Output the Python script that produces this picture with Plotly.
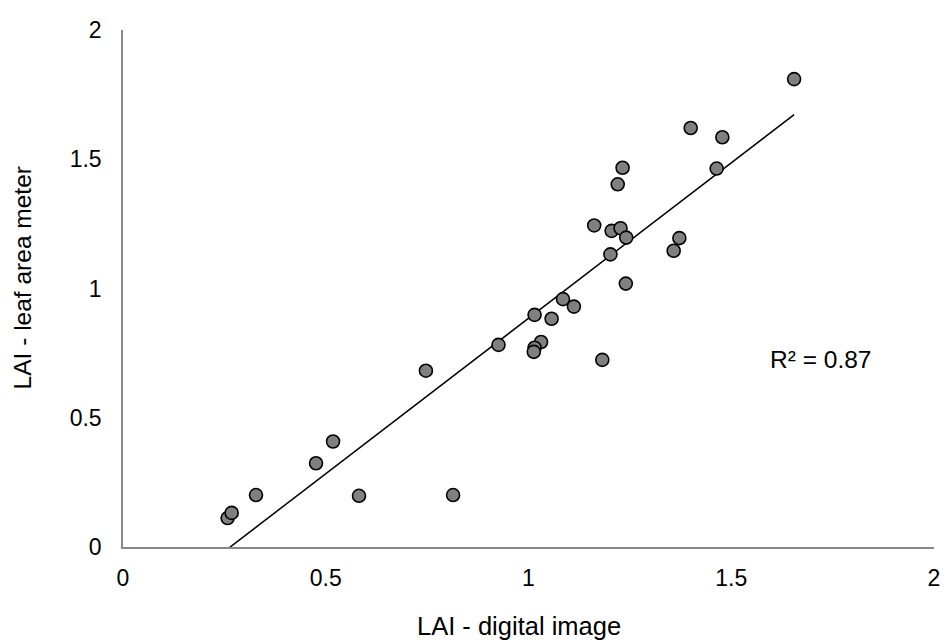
import numpy as np
import plotly.graph_objects as go

# LAI - digital image (x) vs LAI - leaf area meter (y)
lai_digital = [1.655, 1.400, 1.478, 1.464, 1.232, 1.220, 1.162, 1.205, 1.227, 1.241,
               1.372, 1.358, 1.202, 1.240, 1.085, 1.112, 1.015, 1.057, 0.926, 1.031,
               1.015, 1.013, 1.182, 0.258, 0.268, 0.328, 0.582, 0.476, 0.518, 0.747,
               0.814]
lai_meter = [1.810, 1.621, 1.585, 1.464, 1.467, 1.403, 1.244, 1.223, 1.233, 1.197,
             1.195, 1.146, 1.132, 1.019, 0.959, 0.930, 0.898, 0.883, 0.782, 0.793,
             0.771, 0.755, 0.724, 0.112, 0.132, 0.201, 0.198, 0.324, 0.408, 0.682,
             0.201]
r2_label = "R² = 0.87"
tick_vals = [0, 0.5, 1, 1.5, 2]
tick_text = ["0", "0.5", "1", "1.5", "2"]

x = np.array(lai_digital)
y = np.array(lai_meter)
slope, intercept = np.polyfit(x, y, 1)
xt = np.array([x.min(), x.max()])
yt = slope * xt + intercept

FONT = "Liberation Sans, Arial, sans-serif"

# page body has an 8px margin, so the figure is sized to fit inside the window
W, H = 941, 635
L, R, T, B = 115, 9, 15, 96
pw, ph = W - L - R, H - T - B

fig = go.Figure()
fig.add_trace(go.Scatter(x=xt, y=yt, mode="lines",
                         line=dict(color="black", width=1.5),
                         hoverinfo="skip", showlegend=False))
fig.add_trace(go.Scatter(x=lai_digital, y=lai_meter, mode="markers",
                         marker=dict(size=13, color="#808080",
                                     line=dict(color="black", width=1.6)),
                         showlegend=False))

axis_common = dict(range=[0, 2], tickvals=tick_vals, ticktext=tick_text,
                   showgrid=False, zeroline=False, showline=True,
                   linecolor="#888888", linewidth=1.5, ticks="",
                   tickfont=dict(family=FONT, size=23, color="black"),
                   fixedrange=True)
fig.update_xaxes(**axis_common, ticklabelstandoff=10)
fig.update_yaxes(**axis_common, ticklabelstandoff=15)

# title positions in figure pixels -> paper fractions
xt_cx, xt_cy = 514, 619      # x-axis title centre
yt_cx, yt_cy = 14, 266       # y-axis title centre

fig.update_layout(
    width=W, height=H,
    margin=dict(l=L, r=R, t=T, b=B),
    plot_bgcolor="white", paper_bgcolor="white",
    font=dict(family=FONT, color="black"),
    annotations=[
        dict(text="LAI - digital image", xref="paper", yref="paper",
             x=(xt_cx - L) / pw, y=(H - B - xt_cy) / ph,
             xanchor="center", yanchor="middle",
             showarrow=False, font=dict(size=25.5, family=FONT)),
        dict(text="LAI - leaf area meter", xref="paper", yref="paper",
             x=(yt_cx - L) / pw, y=(H - B - yt_cy) / ph,
             xanchor="center", yanchor="middle",
             textangle=-90, showarrow=False, font=dict(size=24.5, family=FONT)),
        dict(text=r2_label, x=1.719, y=0.725, xref="x", yref="y",
             xanchor="center", yanchor="middle", showarrow=False,
             font=dict(size=24.5, family=FONT)),
    ],
)

fig.write_html("out.html")
